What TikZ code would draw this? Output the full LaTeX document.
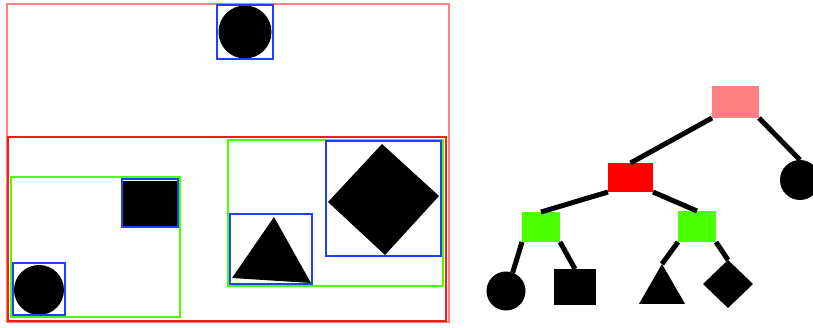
\documentclass[tikz,border=0pt]{standalone}
\usepackage{tikz}
\usetikzlibrary{shapes.geometric}
\definecolor{rootpink}{HTML}{FF8080}
\definecolor{levred}{HTML}{FF1A1A}
\definecolor{levgreen}{HTML}{4CFF00}
\definecolor{leafblue}{HTML}{2040FF}
\begin{document}
\begin{tikzpicture}[x=1pt, y=-1pt,
  frame/.style={line width=2.3pt},
  item/.style={fill=black, draw=none},
  tnode/.style={inner sep=0pt, outer sep=0pt},
  leaf/.style={tnode, fill=black},
  edge/.style={line width=5pt}
]
  \useasboundingbox (0,0) rectangle (813,327);
  % left: nested boxes
  \draw[frame, rootpink, line width=2.8pt] (7,4) rectangle (449,322);
  \draw[frame, levred] (8,137) rectangle (446,321);
  \draw[frame, levgreen] (11,177) rectangle (180,317);
  \draw[frame, levgreen] (228,140) rectangle (443,286);
  \fill[item] (245,32) circle (26.5);
  \fill[item] (39,290) circle (25);
  \fill[item] (123,181) rectangle (177,226);
  \fill[item] (274,217) -- (311,283) -- (232,278) -- cycle;
  \fill[item] (382,144) -- (439,196) -- (385,255) -- (328,202) -- cycle;
  \draw[frame, leafblue] (217,5) rectangle (273,59);
  \draw[frame, leafblue] (13,263) rectangle (65,315);
  \draw[frame, leafblue] (122,179) rectangle (178,227);
  \draw[frame, leafblue] (230,214) rectangle (312,284);
  \draw[frame, leafblue] (326,141) rectangle (441,256);
  % right: tree
  \node[tnode, fill=rootpink, minimum width=47, minimum height=32] (root) at (735.5,102) {};
  \node[tnode, fill=red, minimum width=45, minimum height=29] (mid) at (630.5,177.5) {};
  \node[leaf, circle, minimum size=40] (rc) at (800,180) {};
  \node[tnode, fill=levgreen, minimum width=38, minimum height=30] (gl) at (541,227) {};
  \node[tnode, fill=levgreen, minimum width=38, minimum height=31] (gr) at (697,226.5) {};
  \node[leaf, circle, minimum size=39] (lc) at (506,291) {};
  \node[leaf, rectangle, minimum width=42, minimum height=36] (ls) at (575,287) {};
  \node[leaf, regular polygon, regular polygon sides=3, minimum size=53] (lt) at (662,290.5) {};
  \node[leaf, diamond, minimum width=50, minimum height=48] (ld) at (728,284) {};
  \draw[edge] (root.south west) -- (mid.north);
  \draw[edge] (root.south east) -- (rc.north);
  \draw[edge] (mid.south west) -- (gl.north);
  \draw[edge] (mid.south east) -- (gr.north);
  \draw[edge] (gl.south west) -- (lc.70);
  \draw[edge] (gl.south east) -- (ls.north);
  \draw[edge] (gr.south west) -- (lt.corner 1);
  \draw[edge] (gr.south east) -- (ld.north);
\end{tikzpicture}
\end{document}
